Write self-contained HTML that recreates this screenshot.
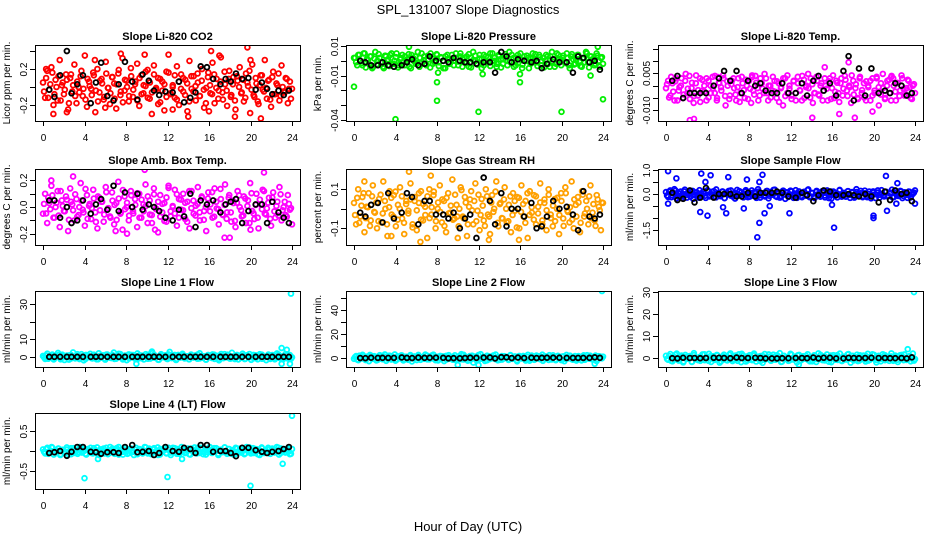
<!DOCTYPE html>
<html><head><meta charset="utf-8"><style>
html,body{margin:0;padding:0;background:#fff;}
svg{display:block;font-family:"Liberation Sans",sans-serif;}
</style></head><body>
<svg id="chart" width="936" height="540" viewBox="0 0 936 540" xmlns="http://www.w3.org/2000/svg">
<rect x="0" y="0" width="936" height="540" fill="#fff"/>
<text x="468" y="14" text-anchor="middle" font-size="13">SPL_131007  Slope Diagnostics</text>
<text x="468" y="531" text-anchor="middle" font-size="13">Hour of Day (UTC)</text>
</svg>
<script>
// shared black-point hours
const blackHours = [0.6,1.1,1.65,2.3,2.75,3.3,3.85,4.6,5.1,5.6,6.2,6.8,7.3,7.9,8.6,9.1,9.6,10.2,10.7,11.2,11.8,12.5,13.1,13.6,14.2,14.7,15.2,15.8,16.4,17.1,17.6,18.1,18.6,19.2,19.8,20.5,21.1,21.6,22.1,22.7,23.2,23.7];
const xTicks = [0,4,8,12,16,20,24];
const xTickLabels = ["0","4","8","12","16","20","24"];

// CO2 (units 0.01)
const co2Vals = [5,-12,18,-3,22,-20,8,-15,30,2,-8,14,-25,10,-5,25,-18,0,12,-10,35,-22,6,-2,16,-28,20,-6,9,-14,28,-1,-19,11,4,-24,15,-9,32,-4,7,-16,21,-11,3,26,-21,13,-7,1,19,-13,-30,24,-3,10,-17,6,-26,17,36,-8,2,-12,23,-20,14,-5,8,-27,29,-2,12,-15,5,-10,20,-23,-1,16,-7,27,-18,9,-4,33,-14,3,-21,18,-9,11,-25,7,22,-6,-16,15,1,-29,25,-11,4,-19,13,-3,30,-13,8,-22,17,-8,2,-15,24,-5,10,-18,6,-2];
const co2Core = [-5,10,-12,3,16,-8,0,12,-15,5,-3,8,-18,14,2,-10,6,-6,18,-2,-14,9,1,-9,13,-4,-16,7,4,-11,15,-1,-7,11,-13,3,19,-5,-17,8,0,-10,12,-3,6,-15,10,-8,2,17,-12,5,-6,14,-1,-19,9,-4,3,-11,16,-7,0,13,-14,6,-2,10,-9,4,-16,12,-5,1,15,-10,7,-3,-18,11,2,-8,14,-1,-13,6,-6,17,-4,9,-11,3,-15,12,0,-7,8,-12,5,18,-3,-9,10,-16,2,13,-5,-1,7,-14,11,-8,4,15,-10,0,-6,9,-2,-13];
const co2Out = [[7.5,0.37],[9.8,0.36],[16.2,0.4],[17,0.35],[19.7,0.44],[20,0.3],[14,-0.33],[16,-0.27],[18.5,-0.33],[21,-0.35],[1,-0.3],[2.3,-0.28],[6,-0.23],[12.5,-0.25],[0.3,0.2],[5,0.3]];
const co2Black = [-3,-11,13,40,-7,3,13,-18,5,27,-10,-15,3,28,6,-14,14,7,-4,-9,-5,-6,6,-17,-12,-6,23,22,9,3,9,6,15,9,10,-3,5,-2,-8,-4,-9,-4];

// Pressure (units 0.001)
const presVals = [2,-1,4,0,-3,5,1,-2,3,-4,6,0,2,-1,-5,3,1,4,-2,0,5,-3,2,-1,3,1,-4,4,0,-2,6,2,-1,3,-3,1,5,-2,0,4,-1,2,-5,3,1,-2,4,0,2,-3,5,1,-1,3,-4,2,6,0,-2,4,1,-3,3,-1,5,0,2,-4,4,1,-2,3,0,6,-1,2,-3,4,1,-5,3,0,2,-2,5,1,-1,4,-3,2,0,3,-4,6,1,-2,4,0,2,-1,5,-3,3,1,-2,4,0,-4,2,6,-1,3,1,-3,5,0,2,-2];
const presCore = [4,-6,8,-3,10,-9,1,6,-10,3,-5,9,-2,-8,7,0,-7,10,-4,5,-9,2,8,-6,-1,9,-10,4,6,-3,-8,10,1,-5,7,-9,3,-2,9,-7,5,0,-10,8,-4,2,-6,10,-1,6,-8,4,-3,9,-9,1,7,-5,3,-10,8,-2,5,-7,10,0,-4,6,-9,2,9,-6,-1,8,-8,4,-3,10,-5,1,7,-10,3,-2,9,-7,5,0,-9,8,-4,6,-1,-8,10,2,-6,7,-3,4,-10,9,-5,1,8,-7,3,-2,10,-9,6,0,-4,7,-8,5];
const presOut = [[0,-0.0175],[4,-0.0395],[8,-0.0145],[8,-0.027],[12,-0.0345],[16,-0.0145],[16,-0.009],[20,-0.0345],[24,-0.026],[22.8,-0.010],[5.3,0.0095],[23.5,0.0095],[12.4,-0.009],[8.1,-0.008]];
const presBlack = [0,-1,-3,-3,-1,-3,-4,-3,-1,1,-3,-2,3,0,0,-1,2,0,-1,-1,-2,-1,-1,-8,6,3,-1,1,0,-1,0,-5,-2,1,-1,-1,-8,3,2,-1,0,-6];

// Li-820 Temp (units 0.001)
const tempVals = [-1,2,-4,1,-6,3,-2,0,-5,2,-3,4,-1,-7,1,-4,3,-2,0,-6,2,-3,-1,4,-5,1,-2,3,-8,0,-4,2,-1,-6,3,-3,1,-5,0,2,-7,-2,4,-1,-4,1,-3,3,-6,0,-2,2,-5,1,-1,-8,3,-3,0,-4,2,-6,1,-2,4,-5,0,-1,3,-7,-3,2,-4,1,-2,0,-6,3,-1,-5,2,-3,1,-4,4,-2,0,-7,2,-1,-5,3,-3,1,-6,0,2,-4,-2,3,-8,1,-1,-5,2,-3,4,0,-6,1,-2,3,-4,-1,2,-5,0,-3];
const tempCore = [1,-8,6,-4,3,-10,-1,5,-6,8,-2,-9,2,-7,7,-3,-11,4,-4,5,-8,0,6,-5,-10,2,-1,7,-7,3,-9,1,5,-6,-1,-11,6,-3,4,-9,-2,7,-6,2,-10,5,-2,8,-5,0,-8,6,-4,3,-11,-1,5,-7,7,-2,-9,3,-5,6,-3,-10,4,-1,8,-8,1,-5,6,-6,0,-10,5,-2,3,-9,7,-4,2,-11,5,-2,4,-7,-1,7,-6,1,-9,6,-3,-8,3,-1,-10,5,-5,6,-1,-6,8,-9,0,4,-10,5,-4,2,-7,7,-2,-6,4,-1,-9,1];
const tempOut = [[2.3,-0.014],[2.7,-0.0135],[15.3,0.0075],[16.7,-0.0115],[14.1,-0.013],[17.6,0.0095],[8.3,0.0035],[21.7,0.0035],[18.2,-0.013],[19.9,-0.0105],[5,0.0035]];
const tempBlack = [2,4,-5,-3,-3,-3,-3,0,3,6,2,6,-3,2,0,1,-2,-3,-3,1,-3,-3,1,-4,2,4,-2,1,-4,6,12,-6,7,-4,7,-3,-2,-3,1,0,-4,-3];

// Amb Box Temp (units 0.01)
const ambVals = [-5,10,-12,3,16,-8,0,12,-15,5,-3,8,-18,14,2,-10,6,-6,18,-2,-14,9,1,-9,13,-4,-16,7,4,-11,15,-1,-7,11,-13,3,19,-5,-17,8,0,-10,12,-3,6,-15,10,-8,2,17,-12,5,-6,14,-1,-19,9,-4,3,-11,16,-7,0,13,-14,6,-2,10,-9,4,-16,12,-5,1,15,-10,7,-3,-18,11,2,-8,14,-1,-13,6,-6,17,-4,9,-11,3,-15,12,0,-7,8,-12,5,18,-3,-9,10,-16,2,13,-5,-1,7,-14,11,-8,4,15,-10,0,-6,9,-2,-13];
const ambCore = [3,-6,9,-2,11,-10,4,-8,15,1,-4,7,-12,5,-3,12,-9,0,6,-5,17,-11,3,-1,8,-14,10,-3,5,-7,14,-1,-10,6,2,-12,8,-5,16,-2,4,-8,11,-6,2,13,-10,7,-4,1,10,-7,-15,12,-2,5,-9,3,-13,9,18,-4,1,-6,12,-10,7,-3,4,-14,15,-1,6,-8,3,-5,10,-12,0,8,-4,14,-9,5,-2,17,-7,2,-11,9,-5,6,-13,4,11,-3,-8,8,1,-15,13,-6,2,-10,7,-2,15,-7,4,-11,9,-4,1,-8,12,-3,5,-9,3,-1];
const ambOut = [[9.8,0.28],[0.8,0.2],[2.9,0.23],[17.5,-0.23],[18,-0.23],[20,-0.17],[10.8,-0.17],[7,-0.18],[8.1,-0.2],[21.3,0.26]];
const ambBlack = [5,5,-8,0,-12,-10,5,-5,2,6,-2,16,-3,11,0,10,-2,2,0,-3,-8,-10,-2,-7,10,-15,5,2,5,-4,2,4,6,-12,-3,2,2,-12,4,-4,-8,-12];

// Gas Stream RH (units 0.01)
const rhVals = [3,-8,10,-4,6,-12,1,8,-6,12,-2,-10,5,-7,14,0,-14,9,-3,7,-9,2,11,-5,-13,4,-1,13,-8,6,-11,3,9,-6,1,-15,10,-3,7,-10,0,12,-7,4,-12,8,-2,15,-5,2,-9,11,-4,6,-14,1,9,-8,13,-1,-11,5,-6,10,-3,-13,7,0,14,-9,3,-5,11,-7,2,-12,8,-1,6,-10,12,-4,4,-15,9,-2,7,-8,1,13,-6,3,-11,10,-3,-9,5,0,-13,8,-5,11,-1,-7,14,-10,2,6,-12,9,-4,4,-8,12,-2,-6,7,1,-11,3];
const rhCore = [-4,7,-9,2,10,-6,1,-11,8,-2,4,-8,9,-3,5,-10,1,7,-5,11,-7,0,8,-9,3,-3,6,-12,5,-1,10,-7,3,-4,8,-6,1,11,-8,4,-2,6,-11,7,-3,2,-7,9,-5,0,12,-6,4,-10,6,-1,5,-8,9,-4,2,-11,8,-5,4,-2,11,-9,3,-6,6,0,-8,8,-4,5,-12,7,-2,3,-9,10,-4,1,-7,8,-3,4,-10,6,-1,9,-6,2,-8,7,-4,5,-11,10,-2,1,-7,6,-5,4,-9,9,-3,0,8,-6,3,-11,6,-1,4];
const rhOut = [[5.3,0.19],[7.4,0.17],[1,0.14],[6.4,-0.17],[10,-0.15],[15.9,-0.16],[13,-0.16],[3.6,-0.14]];
const rhBlack = [-2,-4,2,3,-7,8,-5,-2,8,6,-8,4,4,-3,-3,-5,-2,-10,-5,-3,-15,16,4,-8,8,-9,0,0,-4,3,-10,-9,-4,4,0,1,-3,-11,9,-4,-5,-3];

// Sample Flow (units 0.01)
const flowVals = [8,-12,15,-5,20,-18,3,10,-8,18,-15,0,12,-20,6,-3,16,-10,2,-16,14,-6,9,-13,19,-1,-9,11,-17,4,13,-7,0,-19,17,-4,7,-14,10,-2,-11,15,-8,5,20,-15,1,-6,12,-18,8,-3,18,-12,3,-9,14,-20,6,-1,11,-16,16,-5,2,-13,9,-7,19,-10,4,-17,13,0,-8,7,-14,15,-3,-19,10,-6,1,17,-11,5,-2,12,-16,8,-9,20,-4,3,-13,14,-7,0,-18,11,-1,6,-15,16,-5,9,-10,2,18,-12,4,-8,13,-17,7,-3,10,-14,1,15];
const flowCore = [-6,10,-13,4,14,-9,2,-16,11,-3,5,-11,13,-5,7,-15,1,10,-7,16,-10,-1,12,-14,4,-4,9,-17,6,-2,15,-11,3,-6,12,-9,0,16,-13,5,-3,8,-16,10,-5,3,-10,13,-7,0,17,-9,5,-15,9,-2,7,-12,14,-6,2,-16,11,-8,6,-3,16,-13,4,-10,9,-1,-11,12,-6,7,-17,10,-4,4,-14,15,-7,2,-11,12,-4,6,-15,8,-1,13,-9,3,-13,10,-5,7,-17,15,-3,1,-10,9,-7,5,-14,13,-5,-1,11,-8,4,-16,9,-2,6];
const flowOut = [[0.2,0.95],[1,0.65],[3.4,0.85],[4.3,0.78],[6,0.7],[7.8,0.6],[9.3,0.8],[9,0.5],[3.3,-0.75],[4,-0.9],[5.8,-0.8],[7.5,-0.6],[9.5,-0.8],[9,-1.2],[8.8,-1.8],[11.9,-0.8],[10,-0.5],[16.2,-1.4],[16,-0.45],[20,-0.9],[20,-1.0],[21.2,0.75],[21.3,-0.7],[22.3,0.45],[22.2,-0.4],[24,-0.4],[0.2,-0.4],[5.5,-0.55],[3.8,0.5]];
const flowBlack = [5,-25,-20,15,-35,-15,25,-15,0,0,0,-10,-10,5,-10,5,5,5,10,5,-10,-15,5,-5,-30,-5,15,10,-5,-5,0,-5,-10,0,-10,-35,10,-25,15,0,5,-30];

// Line 1 Flow (units 0.1)
const l1Vals = [5,-12,18,-3,10,-15,0,22,-8,12,-18,3,8,-10,25,-5,15,-13,2,-20,11,-2,17,-9,6,-14,20,-4,9,-16,13,-1,-7,24,-11,4,16,-6,1,-19,14,-3,10,-12,19,-8,7,-15,3,12,-10,21,-5,0,-17,15,-2,9,-13,28,-7,5,-18,11,-4,17,-9,2,-14,13,-1,8,-11,20,-6,4,-16,10,-3,14,-12,6,-20,16,-8,1,12,-10,23,-5,7,-15,3,18,-13,9,-2,-17,11,-7,5,15,-11,0,-19,13,-4,8,-14,19,-6,2,-12,16,-9,10,-3];
const l1Core = [-3,8,-11,2,13,-6,0,10,-14,4,-2,7,-16,11,1,-9,5,-5,15,-1,-12,8,1,-8,12,-3,-14,6,3,-10,13,0,-6,10,-12,2,17,-4,-15,7,0,-9,11,-2,5,-13,9,-7,2,15,-11,4,-5,12,-1,-17,8,-3,3,-10,14,-6,0,11,-12,5,-2,9,-8,3,-14,10,-4,1,13,-9,6,-2,-16,10,2,-7,12,-1,-11,5,-5,15,-3,8,-10,2,-13,11,0,-6,7,-11,4,16,-2,-8,9,-14,2,12,-4,-1,6,-12,10,-7,3,13,-9,0,-5,8,-2,-11];
const l1Out = [[23.9,36],[23,5],[23.5,4],[23,-4],[23.8,-4],[9,-4],[10.5,3]];
const l1Black = [0,0,0.2,0,0,0,0,0,0.3,0,0,0,0,0,0.3,0,0,0,0.5,0,0,0,0,0,0,0.2,0,0,0,0,0,0,0,0,0,0,0,0.2,0,0,0,0];

// Line 2 Flow (units 0.1)
const l2Vals = [-8,15,-20,5,25,-12,10,-28,18,-3,8,-18,22,-6,12,-25,3,16,-10,28,-15,0,20,-22,7,-5,14,-30,11,-1,24,-17,6,-9,19,-13,2,26,-20,9,-4,13,-27,17,-7,5,-16,21,-11,1,30,-14,8,-24,15,-2,11,-19,23,-8,4,-26,18,-12,10,-3,27,-21,6,-15,14,0,-18,20,-9,12,-29,16,-5,7,-23,25,-10,3,-17,19,-6,9,-25,13,-1,22,-14,5,-20,17,-8,11,-28,24,-4,2,-16,15,-11,8,-22,21,-7,0,18,-13,6,-27,14,-3,10];
const l2Core = [6,-14,18,-4,12,-19,2,24,-9,14,-22,4,10,-12,28,-6,18,-15,3,-24,13,-2,20,-11,8,-17,23,-5,11,-19,15,-1,-9,27,-13,5,19,-7,2,-22,16,-4,12,-14,22,-9,8,-18,4,14,-12,25,-6,0,-20,18,-2,11,-16,30,-8,6,-21,13,-5,20,-11,3,-17,15,-1,9,-13,23,-7,5,-19,12,-4,16,-14,7,-24,19,-9,1,14,-12,26,-6,8,-18,4,21,-15,11,-2,-20,13,-8,6,18,-13,0,-23,15,-5,9,-17,22,-7,2,-14,19,-11,12,-4];
const l2Out = [[23.9,56],[10,-6],[11.5,-4],[23.2,-5],[12,-6]];
const l2Black = [-2,-3,1,-1,0,-1,-1,3,-1,-2,2,0,1,1,0,-4,-3,-4,-2,1,0,2,3,-5,5,4,-2,2,-2,1,-2,0,1,1,1,-1,-1,-1,-1,0,4,0];

// Line 3 Flow (units 0.1)
const l3Vals = [10,-8,18,-15,3,20,-12,6,-20,14,-3,9,-17,22,-6,1,-13,16,-10,5,19,-18,8,-2,12,-21,4,15,-9,-1,21,-14,7,-5,17,-19,11,0,-11,13,-7,20,-16,2,9,-22,18,-4,6,-12,15,-8,3,22,-17,10,-1,-13,19,-6,5,-20,14,-10,8,-3,17,-15,1,12,-18,21,-5,7,-11,16,-2,-19,13,4,-9,20,-14,6,-7,18,-21,10,-3,15,-12,2,11,-16,19,-8,0,14,-20,9,-4,17,-10,5,-13,21,-6,3,-18,12,-1,16,-9,7,-15,20,-5];
const l3Core = [-4,9,-13,3,15,-7,1,11,-16,5,-2,8,-18,13,1,-10,6,-6,17,-1,-13,9,2,-9,14,-3,-15,7,3,-11,15,0,-7,11,-13,3,19,-4,-16,8,0,-10,12,-2,6,-14,10,-8,2,16,-12,5,-5,13,-1,-18,9,-3,3,-11,15,-7,0,12,-13,6,-2,10,-9,4,-15,11,-5,1,14,-10,7,-3,-17,11,2,-8,13,-1,-12,6,-6,16,-4,9,-11,3,-14,12,0,-7,8,-12,5,17,-3,-9,10,-15,2,13,-5,-1,7,-13,11,-8,4,14,-10,0,-6,9,-2,-12];
const l3Out = [[23.9,30],[12.8,-3],[23.3,4]];
const l3Black = [-1,-2,1,0,0,-1,0,1,1,0,-1,2,0,0,1,0,-2,-2,-2,-1,-1,0,0,-1,2,-2,1,1,-2,-2,1,0,-1,0,1,0,0,-1,-1,0,-2,3];

// Line 4 (LT) Flow (units 0.01)
const l4Vals = [4,-6,8,-3,10,-9,1,6,-10,3,-5,9,-2,-8,7,0,-7,10,-4,5,-9,2,8,-6,-1,9,-10,4,6,-3,-8,10,1,-5,7,-9,3,-2,9,-7,5,0,-10,8,-4,2,-6,10,-1,6,-8,4,-3,9,-9,1,7,-5,3,-10,8,-2,5,-7,10,0,-4,6,-9,2,9,-6,-1,8,-8,4,-3,10,-5,1,7,-10,3,-2,9,-7,5,0,-9,8,-4,6,-1,-8,10,2,-6,7,-3,4,-10,9,-5,1,8,-7,3,-2,10,-9,6,0,-4,7,-8,5];
const l4Core = [-2,5,-7,1,8,-4,0,6,-8,3,-1,4,-9,7,1,-5,3,-3,9,-1,-7,5,0,-5,7,-2,-8,4,2,-6,8,0,-4,6,-7,2,10,-3,-9,4,0,-5,6,-2,3,-8,5,-4,1,9,-6,3,-3,7,0,-10,5,-2,2,-6,8,-4,0,7,-7,3,-1,5,-5,2,-8,6,-3,1,8,-5,4,-2,-9,6,1,-4,7,0,-7,3,-3,9,-2,5,-6,2,-8,6,0,-4,4,-6,3,9,-2,-5,5,-8,1,7,-3,0,4,-7,6,-4,2,8,-5,0,-3,5,-1,-7];
const l4Out = [[4,-0.68],[12,-0.65],[20,-0.87],[24,0.88],[23.1,-0.32],[5.3,-0.2],[13.4,-0.2]];
const l4Black = [-5,-3,0,-12,-2,10,10,-2,-3,-7,-3,-3,-5,10,15,-3,-2,0,-10,-5,10,0,-2,8,5,-5,15,15,-2,0,0,-5,-13,8,8,2,-2,-5,-2,0,5,10];

const NS = "http://www.w3.org/2000/svg";
const svg = document.getElementById('chart');
const colX = [35, 346, 658], rowY = [45, 169, 291, 413], W = 265, H = 76;

const panels = [
 {key:'co2',title:'Slope Li-820 CO2',ylab:'Licor ppm per min.',c:0,r:0,ylim:[-0.378,0.467],unit:0.01,color:'#ff0000',vals:co2Vals,core:co2Core,out:co2Out,black:co2Black,ticks:[-0.2,0,0.2,0.4],tl:['-0.2','','0.2','']},
 {key:'pressure',title:'Slope Li-820 Pressure',ylab:'kPa per min.',c:1,r:0,ylim:[-0.0407,0.0107],unit:0.001,color:'#00ee00',vals:presVals,core:presCore,coreUnit:0.0005,out:presOut,black:presBlack,ticks:[-0.04,-0.03,-0.02,-0.01,0,0.01],tl:['-0.04','','','-0.01','','0.01']},
 {key:'temp',title:'Slope Li-820 Temp.',ylab:'degrees C per min.',c:2,r:0,ylim:[-0.01434,0.01654],unit:0.001,color:'#ff00ff',vals:tempVals,core:tempCore,coreUnit:0.0006,out:tempOut,black:tempBlack,ticks:[-0.01,-0.005,0,0.005,0.01,0.015],tl:['-0.010','','','0.005','','']},
 {key:'ambbox',title:'Slope Amb. Box Temp.',ylab:'degrees C per min.',c:0,r:1,ylim:[-0.285,0.286],unit:0.01,color:'#ff00ff',vals:ambVals,core:ambCore,coreUnit:0.008,out:ambOut,black:ambBlack,ticks:[-0.2,-0.1,0,0.1,0.2],tl:['-0.2','','0.0','','0.2']},
 {key:'rh',title:'Slope Gas Stream RH',ylab:'percent per min.',c:1,r:1,ylim:[-0.186,0.204],unit:0.01,color:'#ffa000',vals:rhVals,core:rhCore,coreUnit:0.008,out:rhOut,black:rhBlack,ticks:[-0.1,0,0.1],tl:['-0.1','','0.1']},
 {key:'sampleflow',title:'Slope Sample Flow',ylab:'ml/min per min.',c:2,r:1,ylim:[-2.12,1.04],unit:0.01,color:'#0000ff',vals:flowVals,core:flowCore,coreUnit:0.01,out:flowOut,black:flowBlack,ticks:[-1.5,-1,-0.5,0,0.5,1],tl:['-1.5','','','0.0','','1.0']},
 {key:'line1',title:'Slope Line 1 Flow',ylab:'ml/min per min.',c:0,r:2,ylim:[-5.8,37.5],unit:0.1,color:'#00ffff',vals:l1Vals,core:l1Core,out:l1Out,black:l1Black,ticks:[0,10,20,30],tl:['0','10','','30']},
 {key:'line2',title:'Slope Line 2 Flow',ylab:'ml/min per min.',c:1,r:2,ylim:[-7.7,56],unit:0.1,color:'#00ffff',vals:l2Vals,core:l2Core,out:l2Out,black:l2Black,ticks:[0,10,20,30,40,50],tl:['0','','20','','40','']},
 {key:'line3',title:'Slope Line 3 Flow',ylab:'ml/min per min.',c:2,r:2,ylim:[-4.1,30.5],unit:0.1,color:'#00ffff',vals:l3Vals,core:l3Core,out:l3Out,black:l3Black,ticks:[0,10,20,30],tl:['0','10','20','30']},
 {key:'line4',title:'Slope Line 4 (LT) Flow',ylab:'ml/min per min.',c:0,r:3,ylim:[-0.95,0.95],unit:0.01,color:'#00ffff',vals:l4Vals,core:l4Core,out:l4Out,black:l4Black,ticks:[-0.5,0,0.5],tl:['-0.5','','0.5']}
];

function mk(tag, attrs, parent){
  const e = document.createElementNS(NS, tag);
  for (const k in attrs) e.setAttribute(k, attrs[k]);
  (parent||svg).appendChild(e);
  return e;
}

const R = 2.4, SW = 1.8;

panels.forEach(p => {
  const L = colX[p.c], T = rowY[p.r];
  const g = mk('g', {});
  
  
  const xs = h => L + 8 + (h / 24) * (W - 16);
  const ys = v => T + H - (v - p.ylim[0]) / (p.ylim[1] - p.ylim[0]) * H;

  const cp = mk('clipPath', {id:'clip-' + p.key}, g);
  mk('rect', {x:L, y:T, width:W, height:H}, cp);
  const pts = mk('g', {'clip-path':'url(#clip-' + p.key + ')', fill:'none'}, g);
  
  

  const n = p.vals.length;
  p.vals.forEach((v, i) => {
    const c = mk('circle', {cx:xs(i * 24 / (n - 1)), cy:ys(v * p.unit), r:R, stroke:p.color, 'stroke-width':SW}, pts);
    
    
  });
  const m = p.core.length, cu = p.coreUnit || p.unit;
  p.core.forEach((v, i) => {
    const c = mk('circle', {cx:xs((i + 0.5) * 24 / m), cy:ys(v * cu), r:R, stroke:p.color, 'stroke-width':SW}, pts);
    
    
  });
  p.out.forEach(o => {
    const c = mk('circle', {cx:xs(o[0]), cy:ys(o[1]), r:R, stroke:p.color, 'stroke-width':SW}, pts);
    
    
  });
  p.black.forEach((v, i) => {
    if (blackHours[i] === undefined) return;
    const c = mk('circle', {cx:xs(blackHours[i]), cy:ys(v * p.unit), r:R, stroke:'#000', 'stroke-width':SW}, pts);
    
    
  });

  const box = mk('rect', {x:L + 0.5, y:T + 0.5, width:W, height:H, fill:'none', stroke:'#000', 'stroke-width':1}, g);
  
  

  const t = mk('text', {x:L + W / 2, y:T - 5, 'text-anchor':'middle', 'font-size':11, 'font-weight':'bold'}, g);
  t.textContent = p.title;
  
  

  const yl = mk('text', {x:0, y:0, 'text-anchor':'middle', 'font-size':10, transform:'translate(' + (L - 25) + ',' + (T + H / 2) + ') rotate(-90)'}, g);
  yl.textContent = p.ylab;
  
  

  const ax = mk('g', {}, g);
  
  
  mk('line', {x1:xs(0), x2:xs(24), y1:T + H + 0.5, y2:T + H + 0.5, stroke:'#000'}, ax);
  xTicks.forEach((h, i) => {
    const X = Math.round(xs(h)) + 0.5;
    mk('line', {x1:X, x2:X, y1:T + H, y2:T + H + 5, stroke:'#000'}, ax);
    const tx = mk('text', {x:X, y:T + H + 20, 'text-anchor':'middle', 'font-size':10}, ax);
    tx.textContent = xTickLabels[i];
    
    
  });
  const ay = mk('g', {}, g);
  
  
  p.ticks.forEach((v, i) => {
    const Y = Math.round(ys(v)) + 0.5;
    mk('line', {x1:L - 5, x2:L, y1:Y, y2:Y, stroke:'#000'}, ay);
    if (p.tl[i]) {
      const ty = mk('text', {x:0, y:0, 'text-anchor':'middle', 'font-size':10, transform:'translate(' + (L - 8) + ',' + Y + ') rotate(-90)'}, ay);
      ty.textContent = p.tl[i];
      
      
    }
  });
});
</script>
</body></html>
